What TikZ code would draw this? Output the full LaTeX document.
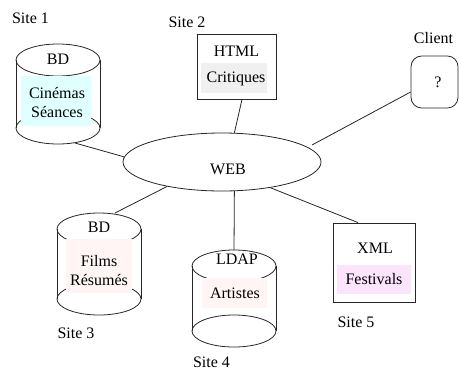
\documentclass[tikz,border=0pt]{standalone}
\usepackage{fontspec}
\setmainfont{Liberation Serif}
\usetikzlibrary{shapes.geometric,fit,calc}

\definecolor{fillcyan}{RGB}{224,255,255}
\definecolor{fillgray}{RGB}{240,240,240}
\definecolor{fillrose}{RGB}{255,245,245}
\definecolor{fillmauve}{RGB}{252,228,252}

% database cylinder: centre x, centre y of top and of bottom ellipse
\newcommand{\dbcyl}[3]{%
  \draw[wire] (#1-42,#2) -- (#1-42,#3) (#1+42,#2) -- (#1+42,#3);
  \draw[wire] (#1,#2) ellipse [x radius=42, y radius=16];
  \draw[wire] (#1,#3) ellipse [x radius=42, y radius=16];
}

\begin{document}
\begin{tikzpicture}[x=0.75pt,y=-0.75pt,
  every node/.style={font=\fontsize{12}{14.25}\selectfont, inner sep=0pt},
  wire/.style={line width=0.6pt, draw=black!85},
  frame/.style={draw=black!85, line width=0.6pt, inner sep=0pt},
  band/.style={inner sep=0pt, draw=none},
  lbl/.style={align=center}]
\useasboundingbox (0,0) rectangle (459,372);

% central web node
\node[ellipse, wire, minimum width=148.5pt, minimum height=43.5pt] (web) at (222,162) {};
\node (webtxt) at (228,169) {WEB};

% Site 1: database
\dbcyl{58}{60}{128}
\node[band, fill=fillcyan, fit={(21,76) (91,126)}] (c1band) {};
\node (c1head) at (58,59) {BD};
\node[lbl] (c1body) at (57,102.5) {Cinémas\\Séances};
\node (site1) at (30.5,18) {Site 1};
\coordinate (c1bot) at (75,143);

% Site 2: HTML page
\node[frame, fit={(197,34) (276,99)}] (s2) {};
\node[band, fill=fillgray, fit={(201,63) (267,93)}] (s2band) {};
\node (s2head) at (236.5,51) {HTML};
\node (s2body) at (236,79) {Critiques};
\node (site2) at (187,22) {Site 2};

% Client
\node[frame, rounded corners=8pt, fit={(411,56) (458,108)}] (client) {};
\node (clienttxt) at (438,82) {?};
\node (clientlbl) at (433.5,38) {Client};
\coordinate (wclient) at (312,145);

% Site 3: database
\dbcyl{99}{229}{299}
\node[band, fill=fillrose, fit={(66,239) (132,293)}] (c3band) {};
\node (c3head) at (99,227) {BD};
\node[lbl] (c3body) at (99,270.5) {Films\\Résumés};
\node (site3) at (76,333) {Site 3};
\coordinate (c3top) at (115,213);

% Site 4: directory
\dbcyl{234}{266}{331}
\node[band, fill=fillrose, fit={(202,278) (267,308)}] (c4band) {};
\node (c4head) at (237,259.5) {LDAP};
\node (c4body) at (235,293) {Artistes};
\node (site4) at (211.5,362) {Site 4};
\coordinate (c4top) at (234,250);

% Site 5: XML document
\node[frame, fit={(333,223) (415,302)}] (s5) {};
\node[band, fill=fillmauve, fit={(337,265) (411,294)}] (s5band) {};
\node (s5head) at (375,248) {XML};
\node (s5body) at (374,279) {Festivals};
\node (site5) at (356,322) {Site 5};

% connections to the web
\draw[wire] (c1bot) -- (web.177);
\draw[wire] ($(s2.south)+(5.5,0)$) -- (web.67);
\draw[wire] ($(client.west)+(0,10)$) -- (wclient);
\draw[wire] (c3top) -- (web.-156);
\draw[wire] (web.-67) -- (c4top);
\draw[wire] ($(s5.north)+(-16,0)$) -- (web.-28);
\end{tikzpicture}
\end{document}
